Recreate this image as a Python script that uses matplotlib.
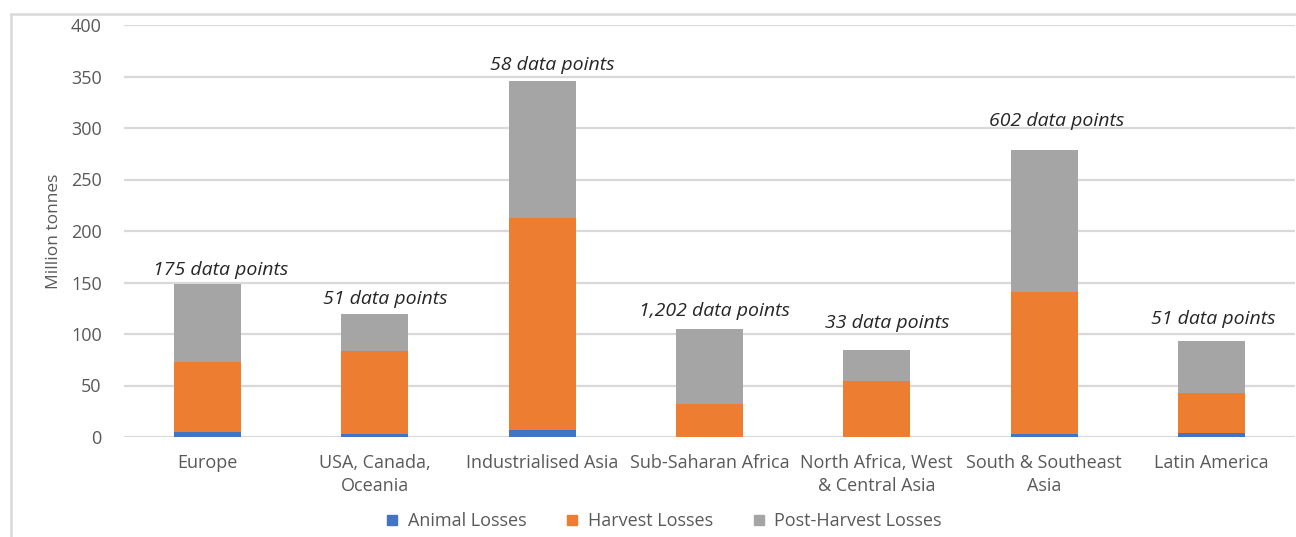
import matplotlib
matplotlib.use("Agg")
import matplotlib.pyplot as plt
from matplotlib.lines import Line2D
import numpy as np

regions = ["Europe", "USA, Canada,\nOceania", "Industrialised Asia", "Sub-Saharan Africa",
           "North Africa, West\n& Central Asia", "South & Southeast\nAsia", "Latin America"]
animal_losses = [5, 3.3, 6.5, 0, 0, 3.3, 4.3]
harvest_losses = [68, 80, 206.5, 32, 54, 137.7, 38.7]
post_harvest_losses = [75.5, 36, 133, 72.5, 30.5, 138, 50.5]
data_point_labels = ["175 data points", "51 data points", "58 data points", "1,202 data points",
                     "33 data points", "602 data points", "51 data points"]
yticks = [0, 50, 100, 150, 200, 250, 300, 350, 400]

# label placement offsets (pixels) relative to bar top
label_dx = [13, 10, 10, 5, 10, 13, 2]
label_dy = [14, 15, 16, 18, 27, 29, 22]

plt.rcParams['font.family'] = ['Open Sans', 'DejaVu Sans']

W, H = 1296, 537
fig = plt.figure(figsize=(W / 100, H / 100), dpi=100)
ax = fig.add_axes([124 / W, (H - 437) / H, 1171 / W, 412 / H])

x = np.arange(len(regions))
a = np.array(animal_losses)
h = np.array(harvest_losses)
p = np.array(post_harvest_losses)
bw = 0.4
c_blue, c_orange, c_gray = "#4472C4", "#ED7D31", "#A5A5A5"
ax.bar(x, a, bw, color=c_blue, zorder=3)
ax.bar(x, h, bw, bottom=a, color=c_orange, zorder=3)
ax.bar(x, p, bw, bottom=a + h, color=c_gray, zorder=3)

ax.set_xlim(-0.5, len(regions) - 0.5)
ax.set_ylim(0, 400)
ax.set_yticks(yticks)
ax.set_yticklabels([str(t) for t in yticks])
ax.set_xticks(x)
ax.set_xticklabels(regions)
ax.grid(axis="y", color="#D9D9D9", linewidth=1.6, zorder=0)
ax.set_axisbelow(True)
for s in ax.spines.values():
    s.set_visible(False)
ax.tick_params(axis="both", length=0, colors="#595959", labelsize=13)
ax.tick_params(axis="y", pad=16)
ax.tick_params(axis="x", pad=12)
for lbl in ax.get_xticklabels():
    lbl.set_linespacing(1.35)

ax.set_ylabel("Million tonnes", color="#595959", fontsize=12.5)
ax.yaxis.set_label_coords(-0.053, 0.5)

tops = a + h + p
for i in range(len(regions)):
    ax.annotate(data_point_labels[i], xy=(x[i], tops[i]), xytext=(label_dx[i], label_dy[i]),
                textcoords="offset pixels", ha="center", va="center",
                fontsize=14, style="italic", color="#262626")

handles = [Line2D([], [], marker="s", linestyle="", markersize=7.5, color=c) for c in (c_blue, c_orange, c_gray)]
fig.legend(handles, ["Animal Losses", "Harvest Losses", "Post-Harvest Losses"],
           loc="center", bbox_to_anchor=(664 / W, (H - 521) / H), ncol=3, frameon=False,
           fontsize=13, labelcolor="#595959", handlelength=0.7, handletextpad=0.5, columnspacing=2.2)

# outer chart border (left and top edges visible)
fig.add_artist(Line2D([11 / W, 11 / W], [0, (H - 14) / H], color="#D9D9D9", linewidth=1.8, transform=fig.transFigure))
fig.add_artist(Line2D([11 / W, 1], [(H - 14) / H, (H - 14) / H], color="#D9D9D9", linewidth=1.8, transform=fig.transFigure))

fig.savefig("out.png", dpi=100)
